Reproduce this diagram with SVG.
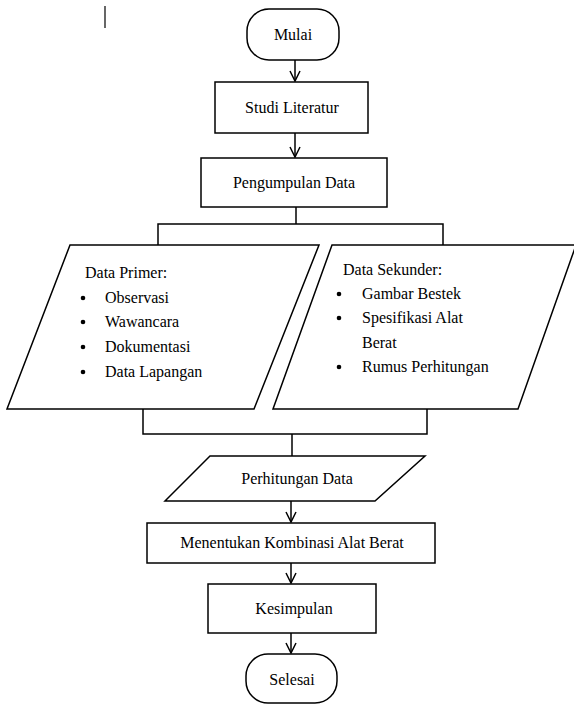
<svg xmlns="http://www.w3.org/2000/svg" width="574" height="704" viewBox="0 0 574 704">
<defs>
<style>
.s{fill:#fff;stroke:#000;stroke-width:1.5}
.c{fill:none;stroke:#000;stroke-width:1.5}
.t{font-family:"Liberation Serif",serif;font-size:16px;fill:#000}
.m{text-anchor:middle}
</style>
<marker id="ah" markerWidth="14" markerHeight="12" refX="11" refY="6" orient="auto" markerUnits="userSpaceOnUse">
<path d="M1,1 L11,6 L1,11" fill="none" stroke="#000" stroke-width="1.5"/>
</marker>
</defs>
<rect width="574" height="704" fill="#fff"/>
<line x1="105" y1="6" x2="105" y2="28" stroke="#000" stroke-width="1.2"/>
<g id="connectors">
<line class="c" x1="295" y1="60" x2="295" y2="81" marker-end="url(#ah)"/>
<line class="c" x1="295" y1="133" x2="295" y2="157" marker-end="url(#ah)"/>
<polyline class="c" points="296,207 296,224"/>
<polyline class="c" points="158,245 158,224 443,224 443,245"/>
<polyline class="c" points="143,409 143,434 427,434 427,409"/>
<line class="c" x1="292" y1="434" x2="292" y2="456"/>
<line class="c" x1="291" y1="501" x2="291" y2="522" marker-end="url(#ah)"/>
<line class="c" x1="291" y1="563" x2="291" y2="583" marker-end="url(#ah)"/>
<line class="c" x1="291" y1="633" x2="291" y2="653" marker-end="url(#ah)"/>
</g>
<g id="mulai">
<rect class="s" x="247" y="9" width="92" height="51" rx="22" ry="22"/>
<text class="t m" x="293" y="40">Mulai</text>
</g>
<g id="studi">
<rect class="s" x="215" y="82" width="153" height="51"/>
<text class="t m" x="292" y="113">Studi Literatur</text>
</g>
<g id="pengumpulan">
<rect class="s" x="201" y="158" width="186" height="49"/>
<text class="t m" x="294" y="188">Pengumpulan Data</text>
</g>
<g id="primer">
<polygon class="s" points="70,245 319,245 254,409 7,409"/>
<text class="t" x="85" y="278">Data Primer:</text>
<circle cx="83" cy="298" r="2.3"/>
<text class="t" x="105" y="303">Observasi</text>
<circle cx="83" cy="322" r="2.3"/>
<text class="t" x="105" y="327">Wawancara</text>
<circle cx="83" cy="347" r="2.3"/>
<text class="t" x="105" y="352">Dokumentasi</text>
<circle cx="83" cy="372" r="2.3"/>
<text class="t" x="105" y="377">Data Lapangan</text>
</g>
<g id="sekunder">
<polygon class="s" points="332,245 576,245 518,409 273,409"/>
<text class="t" x="343" y="275">Data Sekunder:</text>
<circle cx="339" cy="294" r="2.3"/>
<text class="t" x="362" y="299">Gambar Bestek</text>
<circle cx="339" cy="318" r="2.3"/>
<text class="t" x="362" y="323">Spesifikasi Alat</text>
<text class="t" x="362" y="348">Berat</text>
<circle cx="339" cy="367" r="2.3"/>
<text class="t" x="362" y="372">Rumus Perhitungan</text>
</g>
<g id="perhitungan">
<polygon class="s" points="210,456 425,456 375,501 165,501"/>
<text class="t m" x="297" y="484">Perhitungan Data</text>
</g>
<g id="menentukan">
<rect class="s" x="147" y="523" width="288" height="40"/>
<text class="t m" x="292" y="548">Menentukan Kombinasi Alat Berat</text>
</g>
<g id="kesimpulan">
<rect class="s" x="208" y="584" width="168" height="49"/>
<text class="t m" x="294" y="614">Kesimpulan</text>
</g>
<g id="selesai">
<rect class="s" x="246" y="654" width="91" height="49" rx="22" ry="22"/>
<text class="t m" x="292" y="685">Selesai</text>
</g>
</svg>
